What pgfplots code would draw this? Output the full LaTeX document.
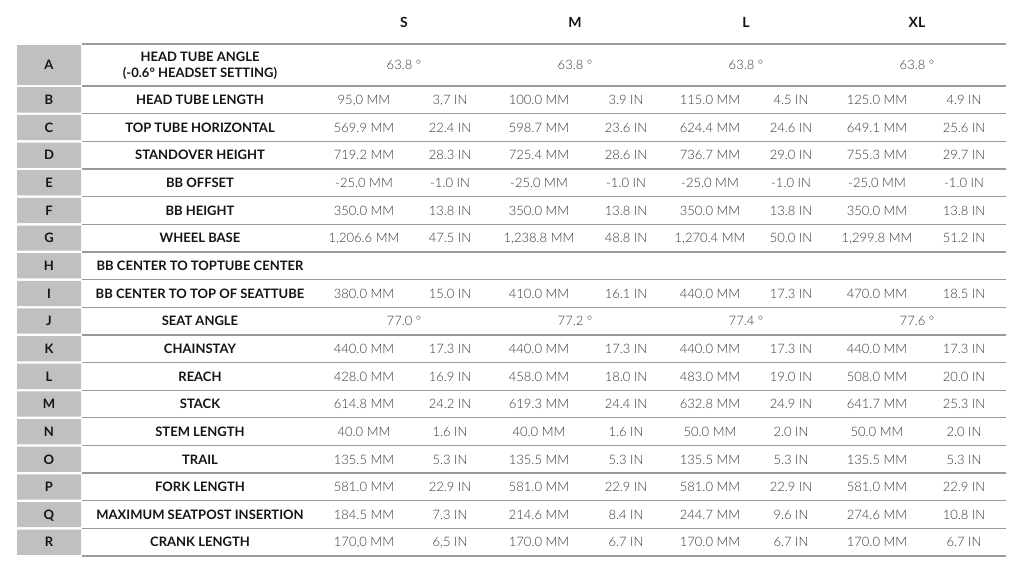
\documentclass[border=0pt]{standalone}
\usepackage{pgfplots}
\pgfplotsset{compat=1.18}
\usepackage{pgfplotstable}
\usepackage{fontspec}
\setmainfont{Lato}
\newfontfamily\lightfont{Lato Light}

\definecolor{boxgray}{RGB}{192,192,192}
\definecolor{linegray}{RGB}{155,155,155}
\definecolor{valtext}{RGB}{55,55,55}
\definecolor{labtext}{RGB}{20,20,20}

% row centres in pixel units (y grows downwards)
\pgfplotstableread[col sep=semicolon]{
y;lab
57;HEAD TUBE ANGLE
73;(-0.6° HEADSET SETTING)
99.8;HEAD TUBE LENGTH
127.5;TOP TUBE HORIZONTAL
155.1;STANDOVER HEIGHT
182.8;BB OFFSET
210.4;BB HEIGHT
238.1;WHEEL BASE
265.7;BB CENTER TO TOPTUBE CENTER
293.4;BB CENTER TO TOP OF SEATTUBE
321.0;SEAT ANGLE
348.7;CHAINSTAY
376.3;REACH
404.0;STACK
431.6;STEM LENGTH
459.3;TRAIL
486.9;FORK LENGTH
514.6;MAXIMUM SEATPOST INSERTION
542.2;CRANK LENGTH
}\labels

\pgfplotstableread[col sep=semicolon]{
y;let
65;A
99.8;B
127.5;C
155.1;D
182.8;E
210.4;F
238.1;G
265.7;H
293.4;I
321.0;J
348.7;K
376.3;L
404.0;M
431.6;N
459.3;O
486.9;P
514.6;Q
542.2;R
}\letters

\pgfplotstableread[col sep=semicolon]{
y;smm;sin;mmm;min;lmm;lin;xmm;xin
99.8;95,0 MM;3,7 IN;100.0 MM;3.9 IN;115.0 MM;4.5 IN;125.0 MM;4.9 IN
127.5;569.9 MM;22.4 IN;598.7 MM;23.6 IN;624.4 MM;24.6 IN;649.1 MM;25.6 IN
155.1;719.2 MM;28.3 IN;725.4 MM;28.6 IN;736.7 MM;29.0 IN;755.3 MM;29.7 IN
182.8;-25.0 MM;-1.0 IN;-25.0 MM;-1.0 IN;-25.0 MM;-1.0 IN;-25.0 MM;-1.0 IN
210.4;350.0 MM;13.8 IN;350.0 MM;13.8 IN;350.0 MM;13.8 IN;350.0 MM;13.8 IN
238.1;1,206.6 MM;47.5 IN;1,238.8 MM;48.8 IN;1,270.4 MM;50.0 IN;1,299.8 MM;51.2 IN
293.4;380.0 MM;15.0 IN;410.0 MM;16.1 IN;440.0 MM;17.3 IN;470.0 MM;18.5 IN
348.7;440.0 MM;17.3 IN;440.0 MM;17.3 IN;440.0 MM;17.3 IN;440.0 MM;17.3 IN
376.3;428.0 MM;16.9 IN;458.0 MM;18.0 IN;483.0 MM;19.0 IN;508.0 MM;20.0 IN
404.0;614.8 MM;24.2 IN;619.3 MM;24.4 IN;632.8 MM;24.9 IN;641.7 MM;25.3 IN
431.6;40.0 MM;1.6 IN;40.0 MM;1.6 IN;50.0 MM;2.0 IN;50.0 MM;2.0 IN
459.3;135.5 MM;5.3 IN;135.5 MM;5.3 IN;135.5 MM;5.3 IN;135.5 MM;5.3 IN
486.9;581.0 MM;22.9 IN;581.0 MM;22.9 IN;581.0 MM;22.9 IN;581.0 MM;22.9 IN
514.6;184.5 MM;7.3 IN;214.6 MM;8.4 IN;244.7 MM;9.6 IN;274.6 MM;10.8 IN
542.2;170,0 MM;6,5 IN;170.0 MM;6.7 IN;170.0 MM;6.7 IN;170.0 MM;6.7 IN
}\values

\pgfplotstableread[col sep=semicolon]{
y;s;m;l;xl
65;63.8 °;63.8 °;63.8 °;63.8 °
321.0;77.0 °;77.2 °;77.4 °;77.6 °
}\angles

\begin{document}
\begin{tikzpicture}
\begin{axis}[
    scale only axis,
    width=1024pt, height=573pt,
    xmin=0, xmax=1024, ymin=0, ymax=573,
    y dir=reverse,
    hide axis, clip=false,
    point meta=explicit symbolic,
    every node near coord/.style={anchor=center, inner sep=0pt,
        text height=9.4pt, text depth=0pt},
    valstyle/.style={draw=none, mark=none, nodes near coords,
        every node near coord/.append style={font=\lightfont\fontsize{13}{15}\selectfont, text=valtext}},
]
% frame extent
\addplot[draw=none, mark=none] coordinates {(0,0) (1024,573)};

% grey letter boxes
\addplot[fill=boxgray, draw=none, unbounded coords=jump] coordinates {
(17,45)(81,45)(81,85)(17,85) (nan,nan)
(17,87.2)(81,87.2)(81,112.5)(17,112.5) (nan,nan)
(17,114.9)(81,114.9)(81,140.1)(17,140.1) (nan,nan)
(17,142.5)(81,142.5)(81,167.8)(17,167.8) (nan,nan)
(17,170.2)(81,170.2)(81,195.4)(17,195.4) (nan,nan)
(17,197.8)(81,197.8)(81,223.1)(17,223.1) (nan,nan)
(17,225.5)(81,225.5)(81,250.7)(17,250.7) (nan,nan)
(17,253.1)(81,253.1)(81,278.4)(17,278.4) (nan,nan)
(17,280.8)(81,280.8)(81,306.0)(17,306.0) (nan,nan)
(17,308.4)(81,308.4)(81,333.7)(17,333.7) (nan,nan)
(17,336.1)(81,336.1)(81,361.3)(17,361.3) (nan,nan)
(17,363.7)(81,363.7)(81,389.0)(17,389.0) (nan,nan)
(17,391.4)(81,391.4)(81,416.6)(17,416.6) (nan,nan)
(17,419.0)(81,419.0)(81,444.3)(17,444.3) (nan,nan)
(17,446.7)(81,446.7)(81,471.9)(17,471.9) (nan,nan)
(17,474.3)(81,474.3)(81,499.6)(17,499.6) (nan,nan)
(17,502.0)(81,502.0)(81,527.2)(17,527.2) (nan,nan)
(17,529.6)(81,529.6)(81,554.9)(17,554.9)
};

% row rules
\addplot[draw=linegray, line width=1.3pt, mark=none, unbounded coords=jump] coordinates {
(82,44)(1006,44) (nan,nan)
(82,86)(1006,86) (nan,nan)
(82,113.65)(1006,113.65) (nan,nan)
(82,141.3)(1006,141.3) (nan,nan)
(82,168.95)(1006,168.95) (nan,nan)
(82,196.6)(1006,196.6) (nan,nan)
(82,224.25)(1006,224.25) (nan,nan)
(82,251.9)(1006,251.9) (nan,nan)
(82,279.55)(1006,279.55) (nan,nan)
(82,307.2)(1006,307.2) (nan,nan)
(82,334.85)(1006,334.85) (nan,nan)
(82,362.5)(1006,362.5) (nan,nan)
(82,390.15)(1006,390.15) (nan,nan)
(82,417.8)(1006,417.8) (nan,nan)
(82,445.45)(1006,445.45) (nan,nan)
(82,473.1)(1006,473.1) (nan,nan)
(82,500.75)(1006,500.75) (nan,nan)
(82,528.4)(1006,528.4) (nan,nan)
(82,556.05)(1006,556.05)
};

% size header
\addplot[draw=none, mark=none, nodes near coords,
    every node near coord/.append style={font=\bfseries\fontsize{14}{16}\selectfont, text=labtext}]
    coordinates {(404,23) [S] (575,23) [M] (746,23) [L] (917,23) [XL]};

% letters and labels
\addplot[draw=none, mark=none, nodes near coords,
    every node near coord/.append style={font=\bfseries\fontsize{13}{15}\selectfont, text=labtext}]
    table[x expr=49, y=y, meta=let] {\letters};
\addplot[draw=none, mark=none, nodes near coords,
    every node near coord/.append style={font=\bfseries\fontsize{13}{15}\selectfont, text=labtext}]
    table[x expr=200, y=y, meta=lab] {\labels};

% values
\addplot[valstyle] table[x expr=364, y=y, meta=smm] {\values};
\addplot[valstyle] table[x expr=450, y=y, meta=sin] {\values};
\addplot[valstyle] table[x expr=539, y=y, meta=mmm] {\values};
\addplot[valstyle] table[x expr=626, y=y, meta=min] {\values};
\addplot[valstyle] table[x expr=710, y=y, meta=lmm] {\values};
\addplot[valstyle] table[x expr=791, y=y, meta=lin] {\values};
\addplot[valstyle] table[x expr=877, y=y, meta=xmm] {\values};
\addplot[valstyle] table[x expr=964, y=y, meta=xin] {\values};

% angles, one value per size
\addplot[valstyle] table[x expr=404, y=y, meta=s] {\angles};
\addplot[valstyle] table[x expr=575, y=y, meta=m] {\angles};
\addplot[valstyle] table[x expr=746, y=y, meta=l] {\angles};
\addplot[valstyle] table[x expr=917, y=y, meta=xl] {\angles};
\end{axis}
\end{tikzpicture}
\end{document}
